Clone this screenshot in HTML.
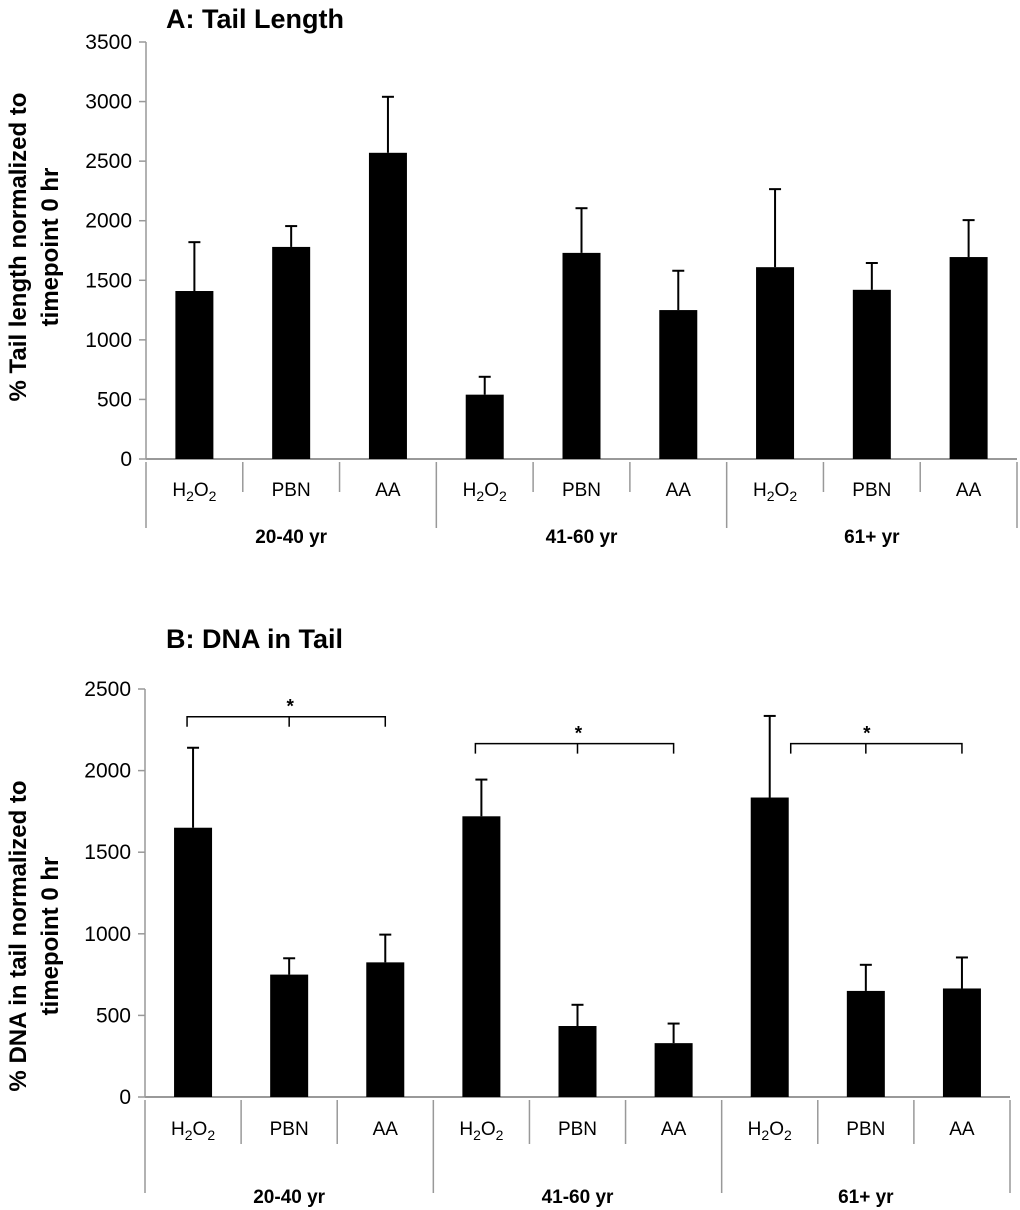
<!DOCTYPE html>
<html><head><meta charset="utf-8"><style>
html,body{margin:0;padding:0;background:#fff;}
svg{display:block;font-family:"Liberation Sans",sans-serif;}
</style></head><body>
<svg id="fig" width="1020" height="1210" viewBox="0 0 1020 1210"></svg>
<script>
const categories = ["H2O2","PBN","AA","H2O2","PBN","AA","H2O2","PBN","AA"];
const groups = ["20-40 yr","41-60 yr","61+ yr"];
const tailLength = [1410,1780,2570,540,1730,1250,1610,1420,1695];
const tailLengthErr = [410,175,470,150,375,330,655,225,310];
const dnaTail = [1650,750,825,1720,435,330,1835,650,665];
const dnaTailErr = [490,100,170,225,130,120,500,160,190];
const ticksA = [0,500,1000,1500,2000,2500,3000,3500];
const ticksB = [0,500,1000,1500,2000,2500];
const bracketValues = [2330,2165,2165];

const NS="http://www.w3.org/2000/svg";
const svg=document.getElementById('fig');
function el(tag,attrs,parent,text){const e=document.createElementNS(NS,tag);for(const k in attrs)e.setAttribute(k,attrs[k]);if(text!==undefined)e.textContent=text;(parent||svg).appendChild(e);return e;}

function chart(cfg){
  const g=el('g',{});
  
  
  const yScale=v=>cfg.y0-(v/cfg.max)*(cfg.y0-cfg.yTop);
  const cw=(cfg.x1-cfg.x0)/categories.length;
  const xc=i=>cfg.x0+cw*(i+0.5);
  const t=el('text',{x:cfg.titleX,y:cfg.titleY,'font-size':27,'font-weight':'bold'},g,cfg.title);
  
  
  const ya=el('line',{x1:cfg.x0,y1:cfg.yTop,x2:cfg.x0,y2:cfg.y0,stroke:'#999','stroke-width':1.5},g);
  
  
  cfg.ticks.forEach(v=>{
    const y=yScale(v);
    el('line',{x1:cfg.x0-7,y1:y,x2:cfg.x0,y2:y,stroke:'#999','stroke-width':1.5},g);
    const tl=el('text',{x:cfg.x0-14,y:y+7,'font-size':21,'text-anchor':'end'},g,String(v));
    
    
  });
  const yt=el('text',{transform:`translate(${cfg.ytX},${cfg.ytY}) rotate(-90)`,'font-size':24,'font-weight':'bold','text-anchor':'middle'},g);
  
  
  el('tspan',{x:0,dy:0},yt,cfg.yTitle1);
  el('tspan',{x:0,dy:32},yt,cfg.yTitle2);
  const xa=el('line',{x1:cfg.x0,y1:cfg.y0,x2:cfg.x1,y2:cfg.y0,stroke:'#999','stroke-width':2},g);
  
  
  for(let i=0;i<=categories.length;i++){
    const x=cfg.x0+cw*i;
    const isGroup=i%3===0;
    el('line',{x1:x,y1:cfg.y0+3,x2:x,y2:isGroup?cfg.gSepEnd:cfg.cSepEnd,stroke:'#999','stroke-width':1.5},g);
  }
  categories.forEach((c,i)=>{
    const tx=el('text',{x:xc(i),y:cfg.catY,'font-size':19,'text-anchor':'middle'},g);
    
    
    if(c==='H2O2'){tx.appendChild(document.createTextNode('H'));el('tspan',{dy:5,'font-size':14},tx,'2');el('tspan',{dy:-5},tx,'O');el('tspan',{dy:5,'font-size':14},tx,'2');}
    else tx.textContent=c;
  });
  groups.forEach((gr,i)=>{
    const tx=el('text',{x:cfg.x0+cw*(3*i+1.5),y:cfg.grpY,'font-size':19,'font-weight':'bold','text-anchor':'middle'},g,gr);
    
    
  });
  const bw=38;
  cfg.vals.forEach((v,i)=>{
    const x=xc(i), y=yScale(v), ye=yScale(v+cfg.errs[i]);
    const eb=el('line',{x1:x,y1:y,x2:x,y2:ye,stroke:'#000','stroke-width':2},g);
    
    
    el('line',{x1:x-6,y1:ye,x2:x+6,y2:ye,stroke:'#000','stroke-width':2},g);
    const r=el('rect',{x:x-bw/2,y:y,width:bw,height:cfg.y0-y,fill:'#000'},g);
    
    
  });
  if(cfg.brackets){
    cfg.brackets.forEach((bv,gi)=>{
      const y=yScale(bv);
      const xb=xc(gi*3+2);
      const xs=gi===2?xc(gi*3)+(bw/2)+2:xc(gi*3)-6;
      const bg=el('path',{d:`M${xs},${y+10} V${y} H${xb} V${y+10} M${xc(gi*3+1)},${y} V${y+10}`,fill:'none',stroke:'#000','stroke-width':1.5},g);
      
      
      const st=el('text',{x:xc(gi*3+1)+1,y:y-4,'font-size':19,'font-weight':'bold','text-anchor':'middle'},g,'*');
      
      
    });
  }
}
chart({name:'chart-a-tail-length',title:'A: Tail Length',titleX:166,titleY:28,x0:146,x1:1017,y0:459,yTop:42,max:3500,ticks:ticksA,
  vals:tailLength,errs:tailLengthErr,ytX:26,ytY:247,yTitle1:'% Tail length normalized to',yTitle2:'timepoint 0 hr',
  cSepEnd:492,gSepEnd:528,catY:496,grpY:543});
chart({name:'chart-b-dna-in-tail',title:'B: DNA in Tail',titleX:166,titleY:648,x0:145,x1:1010,y0:1097,yTop:689,max:2500,ticks:ticksB,
  vals:dnaTail,errs:dnaTailErr,ytX:26,ytY:936,yTitle1:'% DNA in tail normalized to',yTitle2:'timepoint  0 hr',
  cSepEnd:1144,gSepEnd:1193,catY:1135,grpY:1203,brackets:bracketValues});
</script>
</body></html>
